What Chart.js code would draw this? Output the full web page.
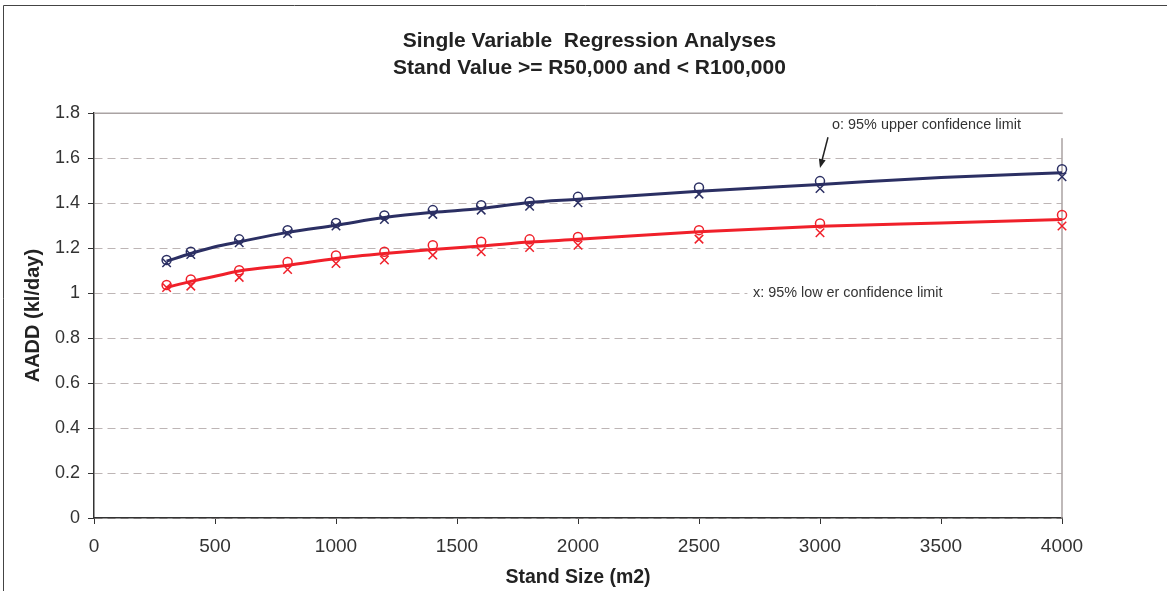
<!DOCTYPE html>
<html>
<head>
<meta charset="utf-8">
<script src="https://cdn.jsdelivr.net/npm/chart.js@4.4.1/dist/chart.umd.min.js"></script>
<style>
  html, body { margin: 0; padding: 0; background: #fff; }
  #wrap { width: 1167px; height: 591px; }
</style>
</head>
<body>
<div id="wrap"><canvas id="chart"></canvas></div>
<script>
// stand sizes where the confidence limits were computed
const standSize = [300, 400, 600, 800, 1000, 1200, 1400, 1600, 1800, 2000, 2500, 3000, 4000];
const upperO = [1.147, 1.184, 1.239, 1.280, 1.312, 1.345, 1.369, 1.391, 1.406, 1.428, 1.470, 1.498, 1.551];
const upperX = [1.135, 1.172, 1.224, 1.265, 1.298, 1.327, 1.350, 1.369, 1.386, 1.402, 1.440, 1.465, 1.517];
const lowerO = [1.036, 1.061, 1.102, 1.138, 1.167, 1.184, 1.213, 1.228, 1.239, 1.250, 1.280, 1.310, 1.347];
const lowerX = [1.025, 1.031, 1.070, 1.105, 1.132, 1.147, 1.169, 1.184, 1.203, 1.213, 1.240, 1.268, 1.298];

// regression curves
const curveSize = [300, 400, 500, 600, 800, 1000, 1200, 1400, 1600, 1800, 2000, 2500, 3000, 3500, 4000];
const upperCurve = [1.142, 1.176, 1.206, 1.228, 1.270, 1.302, 1.336, 1.359, 1.376, 1.403, 1.417, 1.453, 1.483, 1.514, 1.535];
const lowerCurve = [1.025, 1.052, 1.075, 1.098, 1.124, 1.154, 1.176, 1.194, 1.209, 1.227, 1.239, 1.273, 1.297, 1.312, 1.327];

const xTickLabels = ['0', '500', '1000', '1500', '2000', '2500', '3000', '3500', '4000'];
const yTickLabels = ['0', '0.2', '0.4', '0.6', '0.8', '1', '1.2', '1.4', '1.6', '1.8'];

const BLUE = '#2b2f63';
const RED = '#f0202a';
const FONT = "'Liberation Sans', Arial, sans-serif";

function pts(xs, ys) {
    return xs.map((x, i) => ({ x: x, y: ys[i] }));
}

// outer frame, plot border and the two notes
const decor = {
    id: 'decor',
    beforeDraw(chart) {
        const c = chart.ctx;
        c.save();
        c.strokeStyle = '#444';
        c.lineWidth = 1;
        c.beginPath();
        c.moveTo(3.5, 591);
        c.lineTo(3.5, 5.5);
        c.lineTo(1167, 5.5);
        c.stroke();
        c.restore();
    },
    beforeDatasetsDraw(chart) {
        const c = chart.ctx, a = chart.chartArea;
        c.save();
        c.strokeStyle = '#aaa3a3';
        c.lineWidth = 1.5;
        c.beginPath();
        c.moveTo(a.left, a.top);
        c.lineTo(a.right, a.top);
        c.lineTo(a.right, a.bottom);
        c.stroke();
        c.restore();
    },
    afterDraw(chart) {
        const c = chart.ctx;
        const xs = chart.scales.x, ys = chart.scales.y;
        c.save();
        // white boxes behind the notes
        c.fillStyle = '#fff';
        c.fillRect(xs.getPixelForValue(3025), ys.getPixelForValue(1.796),
                   xs.getPixelForValue(4040) - xs.getPixelForValue(3025),
                   ys.getPixelForValue(1.689) - ys.getPixelForValue(1.796));
        c.fillRect(xs.getPixelForValue(2700), ys.getPixelForValue(1.035),
                   xs.getPixelForValue(3690) - xs.getPixelForValue(2700),
                   ys.getPixelForValue(0.965) - ys.getPixelForValue(1.035));
        c.fillStyle = '#333';
        c.font = '14.4px ' + FONT;
        c.textBaseline = 'middle';
        c.textAlign = 'left';
        c.fillText('o: 95% upper confidence limit', xs.getPixelForValue(3050), ys.getPixelForValue(1.747));
        c.fillText('x: 95% low er confidence limit', xs.getPixelForValue(2723), ys.getPixelForValue(1.0));
        // arrow
        const x0 = xs.getPixelForValue(3033), y0 = ys.getPixelForValue(1.693);
        const x1 = xs.getPixelForValue(3000), y1 = ys.getPixelForValue(1.556);
        const ang = Math.atan2(y1 - y0, x1 - x0);
        c.strokeStyle = '#222';
        c.fillStyle = '#222';
        c.lineWidth = 1.5;
        c.beginPath();
        c.moveTo(x0, y0);
        c.lineTo(x1 - 6 * Math.cos(ang), y1 - 6 * Math.sin(ang));
        c.stroke();
        c.beginPath();
        c.moveTo(x1, y1);
        c.lineTo(x1 - 9 * Math.cos(ang) + 3.5 * Math.sin(ang), y1 - 9 * Math.sin(ang) - 3.5 * Math.cos(ang));
        c.lineTo(x1 - 9 * Math.cos(ang) - 3.5 * Math.sin(ang), y1 - 9 * Math.sin(ang) + 3.5 * Math.cos(ang));
        c.closePath();
        c.fill();
        c.restore();
    }
};

const ctx = document.getElementById('chart').getContext('2d');
new Chart(ctx, {
    type: 'scatter',
    data: {
        datasets: [
            { data: pts(curveSize, upperCurve), showLine: true, borderColor: BLUE, borderWidth: 3,
              pointRadius: 0, tension: 0.3, cubicInterpolationMode: 'monotone' },
            { data: pts(standSize, upperO), pointStyle: 'circle', pointRadius: 4.5, borderColor: BLUE,
              backgroundColor: 'rgba(0,0,0,0)', borderWidth: 1.5 },
            { data: pts(standSize, upperX), pointStyle: 'crossRot', pointRadius: 6, borderColor: BLUE,
              borderWidth: 1.5 },
            { data: pts(curveSize, lowerCurve), showLine: true, borderColor: RED, borderWidth: 3,
              pointRadius: 0, tension: 0.3, cubicInterpolationMode: 'monotone' },
            { data: pts(standSize, lowerO), pointStyle: 'circle', pointRadius: 4.5, borderColor: RED,
              backgroundColor: 'rgba(0,0,0,0)', borderWidth: 1.5 },
            { data: pts(standSize, lowerX), pointStyle: 'crossRot', pointRadius: 6, borderColor: RED,
              borderWidth: 1.5 }
        ]
    },
    options: {
        responsive: true,
        maintainAspectRatio: false,
        animation: false,
        clip: false,
        layout: { padding: { left: 12, right: 0, top: 0, bottom: 0 } },
        plugins: {
            legend: { display: false },
            tooltip: { enabled: false },
            title: {
                display: true,
                text: ['Single Variable  Regression Analyses', 'Stand Value >= R50,000 and < R100,000'],
                color: '#222',
                font: { family: FONT, size: 21, weight: 'bold', lineHeight: 1.29 },
                padding: { top: 28, bottom: 31 }
            }
        },
        scales: {
            x: {
                type: 'linear', min: 0, max: 4000,
                afterFit(s) { s.height = 73; },
                afterBuildTicks(s) { s.ticks = xTickLabels.map(v => ({ value: Number(v) })); },
                ticks: {
                    color: '#333', padding: 11, maxRotation: 0,
                    font: { family: FONT, size: 19 },
                    callback: (v, i) => xTickLabels[i]
                },
                grid: { drawOnChartArea: false, drawTicks: true, tickLength: 6, tickColor: '#333', tickWidth: 1 },
                border: { color: '#333', width: 1.5 },
                title: {
                    display: true, text: 'Stand Size (m2)', color: '#222',
                    font: { family: FONT, size: 19.5, weight: 'bold' },
                    padding: { top: 0, bottom: 2 }
                }
            },
            y: {
                min: 0, max: 1.8,
                afterFit(s) { s.width = 82; },
                afterBuildTicks(s) { s.ticks = yTickLabels.map(v => ({ value: Number(v) })); },
                ticks: {
                    color: '#333', padding: 8,
                    font: { family: FONT, size: 18 },
                    callback: (v, i) => yTickLabels[i]
                },
                grid: { color: '#bdb5b5', lineWidth: 1, tickLength: 6, tickColor: '#333', tickWidth: 1,
                        tickBorderDash: [] },
                border: { color: '#333', width: 1.5, dash: [8, 5] },
                title: {
                    display: true, text: 'AADD (kl/day)', color: '#222',
                    font: { family: FONT, size: 20, weight: 'bold' },
                    padding: { top: 9, bottom: 0 }
                }
            },
            y2: {
                position: 'right', display: true,
                afterFit(s) { s.width = 105; },
                ticks: { display: false },
                grid: { display: false },
                border: { display: false }
            }
        }
    },
    plugins: [decor]
});
</script>
</body>
</html>
